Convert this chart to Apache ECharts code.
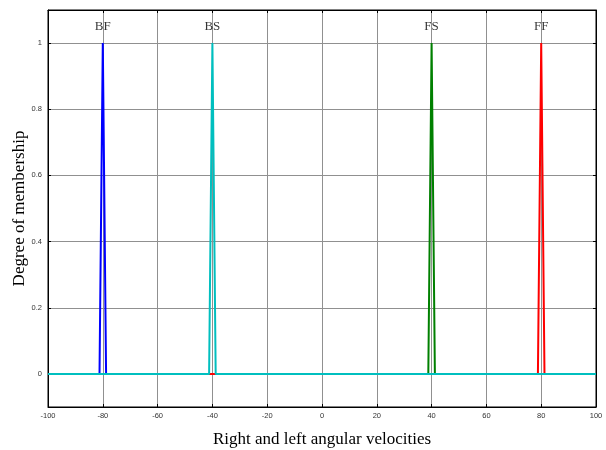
<!DOCTYPE html>
<html>
<head>
<meta charset="utf-8">
<script src="https://cdn.jsdelivr.net/npm/echarts@6/dist/echarts.min.js"></script>
<style>html,body{margin:0;padding:0;background:#fff}#c{width:606px;height:450px}</style>
</head>
<body>
<div id="c"></div>
<script>
// Membership function names and triangle vertices [left, peak, right]
var mfNames = ['BF', 'BS', 'FS', 'FF'];
var mfLeft  = [-81.2, -41.2, 38.8, 78.8];
var mfPeak  = [-80, -40, 40, 80];
var mfRight = [-78.8, -38.8, 41.2, 81.2];
var mfColors = ['#0000FF', '#00BFBF', '#008000', '#FF0000'];
var xRange = [-100, 100];
var xTicks = [-100, -80, -60, -40, -20, 0, 20, 40, 60, 80, 100];
var yTicks = [0, 0.2, 0.4, 0.6, 0.8, 1];
var labelY = 1.05;

function mfData(i) {
  return [[xRange[0], 0], [mfLeft[i], 0], [mfPeak[i], 1], [mfRight[i], 0], [xRange[1], 0]];
}

var drawOrder = [0, 2, 3, 1];
var series = drawOrder.map(function (i) {
  return {
    type: 'line', name: mfNames[i], data: mfData(i), showSymbol: false,
    lineStyle: { color: mfColors[i], width: 2 }, itemStyle: { color: mfColors[i] },
    silent: true, animation: false, z: 3
  };
});
series.push({
  type: 'scatter', symbolSize: 0, animation: false, z: 5,
  data: mfNames.map(function (n, i) { return [mfPeak[i], labelY, n]; }),
  label: {
    show: true, position: 'inside', formatter: function (p) { return p.value[2]; },
    fontFamily: 'Liberation Serif', fontSize: 13, color: '#000'
  }
});

var tickLabelStyle = { fontFamily: 'Liberation Sans', fontSize: 7.5, color: '#333' };
var gridLine = { show: true, lineStyle: { color: '#909090', type: 'solid', width: 1 } };

var option = {
  backgroundColor: '#fff',
  animation: false,
  grid: { left: 48, right: 10, top: 10, bottom: 43, outerBoundsMode: 'none', containLabel: false, show: true, borderColor: '#000', borderWidth: 1, backgroundColor: 'transparent' },
  xAxis: [{
    type: 'value', min: -100, max: 100, interval: 20,
    axisLine: { show: true, onZero: false, lineStyle: { color: '#000', width: 1 } },
    axisTick: { show: true, inside: true, length: 3, lineStyle: { color: '#000' } },
    axisLabel: Object.assign({ margin: 5 }, tickLabelStyle),
    splitLine: gridLine,
    name: 'Right and left angular velocities', nameLocation: 'middle', nameGap: 24,
    nameMoveOverlap: false,
    nameTextStyle: { fontFamily: 'Liberation Serif', fontSize: 17, color: '#000' }
  }, {
    type: 'value', min: -100, max: 100, interval: 20, position: 'top',
    axisLine: { show: true, onZero: false, lineStyle: { color: '#000' } },
    axisTick: { show: true, inside: true, length: 3, lineStyle: { color: '#000' } },
    axisLabel: { show: false }, splitLine: { show: false }
  }],
  yAxis: [{
    type: 'value', min: -0.1, max: 1.1,
    axisLine: { show: true, onZero: false, lineStyle: { color: '#000', width: 1 } },
    axisTick: { show: true, inside: true, length: 3, customValues: yTicks, lineStyle: { color: '#000' } },
    axisLabel: Object.assign({ margin: 6, customValues: yTicks }, tickLabelStyle),
    splitLine: gridLine,
    name: 'Degree of membership', nameLocation: 'middle', nameGap: 20,
    nameMoveOverlap: false,
    nameTextStyle: { fontFamily: 'Liberation Serif', fontSize: 17, color: '#000' }
  }, {
    type: 'value', min: -0.1, max: 1.1, position: 'right',
    axisLine: { show: true, onZero: false, lineStyle: { color: '#000' } },
    axisTick: { show: true, inside: true, length: 3, customValues: yTicks, lineStyle: { color: '#000' } },
    axisLabel: { show: false }, splitLine: { show: false }
  }],
  series: series
};

var chart = echarts.init(document.getElementById('c'), null, { renderer: 'canvas' });
chart.setOption(option);
</script>
</body>
</html>
